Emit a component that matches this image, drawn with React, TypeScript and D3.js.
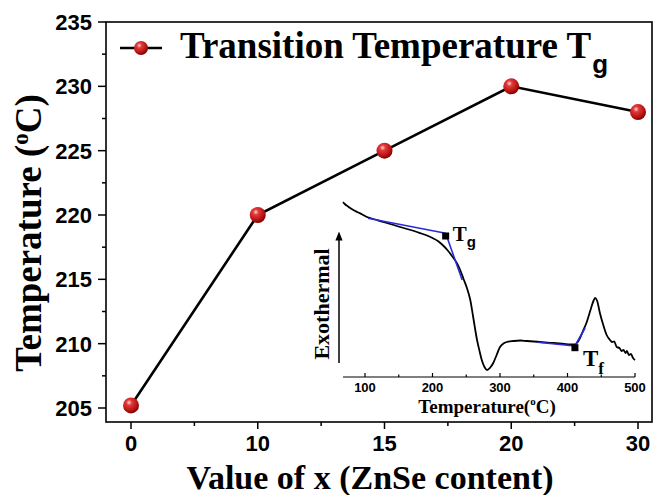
import React from "react";
import * as d3 from "d3";

const categories = ["0", "10", "15", "20", "30"];
const tgValues = [205.2, 220, 225, 230, 228];
const yTicks = [205, 210, 215, 220, 225, 230, 235];
const legendLabel = "Transition Temperature T";

// Inset DSC curve: [temperature °C, heat flow (arb. units)]
const dscCurve: [number, number][] = [
  [67.4, 178], [70, 176], [74, 174], [78, 172], [84, 169.5], [90, 167.5], [96, 165.5], [103, 163],
  [115, 160.5], [127, 158], [140, 155.5], [152, 153], [165, 150.5], [177, 148], [190, 145], [200, 142],
  [208, 139], [215, 135], [222, 130], [230, 123], [236, 117], [241, 110], [246, 101], [251, 92],
  [256, 80], [260, 64], [266, 40], [270, 28], [273, 20], [277, 13], [281, 10], [285, 12],
  [290, 17], [295, 25], [300, 33], [305, 36.5], [310, 38], [320, 39], [330, 39.5], [340, 39],
  [350, 38.5], [360, 38], [380, 37], [395, 36], [404, 35.5], [410, 35.5], [414, 37], [418.5, 42],
  [423, 49], [428, 57], [435, 72], [439, 80], [441, 82], [444, 79], [448, 67], [453, 55],
  [458, 45], [463, 40], [466, 38], [469, 38.5], [473, 33], [477, 32], [480, 29], [483, 30],
  [486, 27], [488, 29], [491, 25], [494, 26], [497, 22], [500, 20],
];
const tgTangent1: [number, number][] = [[104.4, 161.7], [219.5, 146.7]];
const tgTangent2: [number, number][] = [[219.5, 146.7], [244, 100]];
const tfTangent1: [number, number][] = [[356, 37.7], [411, 34]];
const tfTangent2: [number, number][] = [[411, 34], [426, 52]];
const tgMarker: [number, number] = [219.5, 144];
const tfMarker: [number, number] = [411, 32.3];
const insetTicks = [100, 200, 300, 400, 500];
const insetMinor = [150, 250, 350, 450];

export default function App() {
  const W = 654, H = 495;
  const left = 106, right = 652, top = 22, bottom = 422;
  const x = d3.scaleLinear().domain([0, categories.length - 1]).range([131, 638]);
  const y = d3.scaleLinear().domain([205, 235]).range([408, 22]);

  const line = d3.line<number>().x((_, i) => x(i)).y((d) => y(d));

  const ix = d3.scaleLinear().domain([100, 500]).range([365, 635]);
  const iy = d3.scaleLinear().domain([0, 180]).range([380, 200]);
  const iline = d3.line<[number, number]>().x((d) => ix(d[0])).y((d) => iy(d[1])).curve(d3.curveMonotoneX);
  const sline = d3.line<[number, number]>().x((d) => ix(d[0])).y((d) => iy(d[1]));

  const serif = "'Liberation Serif', 'Times New Roman', serif";
  const sans = "'Liberation Sans', Arial, sans-serif";
  const blue = "#2a2ad8";

  const yMinor = d3.range(207.5, 235, 5);
  const xMinor = [0.5, 1.5, 2.5, 3.5];
  const iAxisY = 377;

  return (
    <svg width={W} height={H} style={{ position: "absolute", left: 0, top: 0, background: "#fff" }}>
      <defs>
        <radialGradient id="ball" cx="0.38" cy="0.32" r="0.7">
          <stop offset="0" stopColor="#ffd0d0" />
          <stop offset="0.25" stopColor="#e23a3a" />
          <stop offset="0.75" stopColor="#b31010" />
          <stop offset="1" stopColor="#7a0000" />
        </radialGradient>
        <marker id="arrow" viewBox="0 0 10 10" refX="5" refY="5" markerWidth="6" markerHeight="8" orient="auto">
          <path d="M0,1 L10,5 L0,9 Z" fill="#000" />
        </marker>
      </defs>
      <rect x={0} y={0} width={W} height={H} fill="#fff" />

      {/* frame */}
      <rect x={left} y={top} width={right - left} height={bottom - top} fill="none" stroke="#000" strokeWidth={1.6} />

      {/* y ticks */}
      {yTicks.map((t) => (
        <g key={"y" + t}>
          <line x1={left - 8} x2={left} y1={y(t)} y2={y(t)} stroke="#000" strokeWidth={1.5} />
          <text x={92} y={y(t)} dy="0.36em" textAnchor="end" fontFamily={sans} fontWeight="bold" fontSize={22}>
            {t}
          </text>
        </g>
      ))}
      {yMinor.map((t) => (
        <line key={"ym" + t} x1={left - 4} x2={left} y1={y(t)} y2={y(t)} stroke="#000" strokeWidth={1.5} />
      ))}

      {/* x ticks */}
      {categories.map((c, i) => (
        <g key={"x" + c}>
          <line x1={x(i)} x2={x(i)} y1={bottom} y2={bottom + 7} stroke="#000" strokeWidth={1.5} />
          <text x={x(i)} y={bottom + 29} textAnchor="middle" fontFamily={sans} fontWeight="bold" fontSize={22}>
            {c}
          </text>
        </g>
      ))}
      {xMinor.map((t) => (
        <line key={"xm" + t} x1={x(t)} x2={x(t)} y1={bottom} y2={bottom + 4} stroke="#000" strokeWidth={1.5} />
      ))}

      {/* axis titles */}
      <text x={370} y={489} textAnchor="middle" fontFamily={serif} fontWeight="bold" fontSize={34}>
        Value of x (ZnSe content)
      </text>
      <text
        transform={`translate(41,233) rotate(-90)`}
        textAnchor="middle"
        fontFamily={serif}
        fontWeight="bold"
        fontSize={37}
      >
        Temperature (<tspan fontSize={23} dy={-13}>o</tspan><tspan dy={13}>C)</tspan>
      </text>

      {/* main series */}
      <path d={line(tgValues) || ""} fill="none" stroke="#000" strokeWidth={2.6} />
      {tgValues.map((v, i) => (
        <circle key={"p" + i} cx={x(i)} cy={y(v)} r={8} fill="url(#ball)" />
      ))}

      {/* legend */}
      <line x1={120} x2={162} y1={48} y2={48} stroke="#000" strokeWidth={2.6} />
      <circle cx={141} cy={48} r={7} fill="url(#ball)" />
      <text x={180} y={58} fontFamily={serif} fontWeight="bold" fontSize={37}>
        {legendLabel}
        <tspan fontFamily={sans} fontSize={26} dx={1} dy={15}>g</tspan>
      </text>

      {/* inset */}
      <path d={iline(dscCurve) || ""} fill="none" stroke="#000" strokeWidth={1.8} />
      {[tgTangent1, tgTangent2, tfTangent1, tfTangent2].map((s, i) => (
        <path key={"t" + i} d={sline(s) || ""} fill="none" stroke={blue} strokeWidth={1.6} />
      ))}
      {[tgMarker, tfMarker].map((m, i) => (
        <rect key={"m" + i} x={ix(m[0]) - 3.5} y={iy(m[1]) - 3.5} width={7} height={7} fill="#000" />
      ))}
      <text x={ix(tgMarker[0]) + 7} y={iy(tgMarker[1]) + 5} fontFamily={serif} fontWeight="bold" fontSize={21}>
        T<tspan fontFamily={sans} fontSize={15} dy={6}>g</tspan>
      </text>
      <text x={ix(tfMarker[0]) + 8} y={iy(tfMarker[1]) + 18} fontFamily={serif} fontWeight="bold" fontSize={23}>
        T<tspan fontSize={17} dy={8}>f</tspan>
      </text>

      {/* inset axis */}
      <line x1={ix(67.4)} x2={ix(500)} y1={iAxisY} y2={iAxisY} stroke="#000" strokeWidth={1.2} />
      {insetTicks.map((t) => (
        <g key={"it" + t}>
          <line x1={ix(t)} x2={ix(t)} y1={iAxisY} y2={iAxisY - 4} stroke="#000" strokeWidth={1.2} />
          <text x={ix(t)} y={iAxisY + 15} textAnchor="middle" fontFamily={sans} fontWeight="bold" fontSize={13}>
            {t}
          </text>
        </g>
      ))}
      {insetMinor.map((t) => (
        <line key={"im" + t} x1={ix(t)} x2={ix(t)} y1={iAxisY} y2={iAxisY - 2.5} stroke="#000" strokeWidth={1.2} />
      ))}
      <text x={487} y={413} textAnchor="middle" fontFamily={serif} fontWeight="bold" fontSize={19}>
        Temperature(<tspan fontSize={11} dy={-8}>o</tspan><tspan dy={8}>C)</tspan>
      </text>
      <line x1={339} x2={339} y1={363} y2={236} stroke="#000" strokeWidth={1.5} markerEnd="url(#arrow)" />
      <text
        transform={`translate(329,304) rotate(-90)`}
        textAnchor="middle"
        fontFamily={serif}
        fontWeight="bold"
        fontSize={22}
      >
        Exothermal
      </text>
    </svg>
  );
}
